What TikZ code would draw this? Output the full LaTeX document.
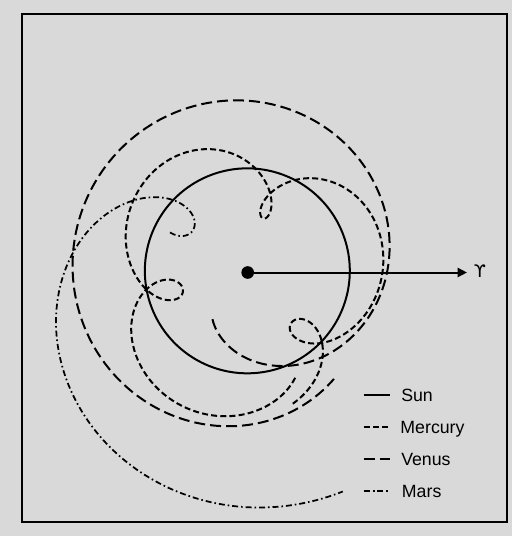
\documentclass[tikz,border=0pt]{standalone}
\usepackage{fontspec}
\setmainfont{Liberation Sans}
\newfontfamily\symfont{DejaVu Sans}
\usetikzlibrary{arrows.meta}
\definecolor{bg}{gray}{0.85}
\begin{document}
\begin{tikzpicture}[x=0.75pt,y=0.75pt,
  declare function={
    kep(\Mx,\Ex)=\Mx+deg(2*\Ex*sin(\Mx)+1.25*\Ex*\Ex*sin(2*\Mx)+\Ex*\Ex*\Ex*(1.0833333*sin(3*\Mx)-0.25*sin(\Mx)));
    prad(\Mx,\Ex,\Ax)=\Ax*(1-\Ex*\Ex)/(1+\Ex*cos(kep(\Mx,\Ex)));
    posx(\Mx,\Ex,\Ax,\Wx)=prad(\Mx,\Ex,\Ax)*cos(kep(\Mx,\Ex)+\Wx);
    posy(\Mx,\Ex,\Ax,\Wx)=prad(\Mx,\Ex,\Ax)*sin(kep(\Mx,\Ex)+\Wx);
    earthx(\t)=posx(-2.672+0.9856091*\t,0.01671,1,102.921);
    earthy(\t)=posy(-2.672+0.9856091*\t,0.01671,1,102.921);
    mercx(\t)=posx(260.137+4.0923388*\t,0.20563,0.38710,77.456)-earthx(\t);
    mercy(\t)=posy(260.137+4.0923388*\t,0.20563,0.38710,77.456)-earthy(\t);
    venx(\t)=posx(4.129+1.6021305*\t,0.00677,0.72333,131.56)-earthx(\t);
    veny(\t)=posy(4.129+1.6021305*\t,0.00677,0.72333,131.56)-earthy(\t);
    marsx(\t)=posx(142.29+0.5240208*\t,0.09340,1.52368,336.04)-earthx(\t);
    marsy(\t)=posy(142.29+0.5240208*\t,0.09340,1.52368,336.04)-earthy(\t);
  }]
\tikzset{
  sunline/.style={line width=1.5pt},
  mercury/.style={line width=1.5pt, dash pattern=on 4.5pt off 2.4pt},
  venus/.style={line width=1.5pt, dash pattern=on 8.2pt off 3.8pt},
  mars/.style={line width=1.3pt, dash pattern=on 4.5pt off 2.2pt on 1.2pt off 2.2pt},
  legtext/.style={anchor=base west, inner sep=0pt, font=\fontsize{13.3}{16}\selectfont},
}
\def\AU{102.5}
% background and frame
\fill[bg] (-247.7,-263.5) rectangle (264.3,272.5);
\useasboundingbox (-247.7,-263.5) rectangle (264.3,272.5);
\draw[line width=1.4pt] (-225.7,-249.2) rectangle (259.0,258.5);
% planet paths (geocentric, one year)
\draw[mars] plot[domain=-1:364, samples=366] ({\AU*marsx(\x)},{\AU*marsy(\x)});
\draw[venus] plot[domain=-1:362, samples=364] ({\AU*venx(\x)},{\AU*veny(\x)});
\draw[mercury] plot[domain=-1:362, samples=727] ({\AU*mercx(\x)},{\AU*mercy(\x)});
% sun path
\draw[sunline] plot[domain=0:360, samples=181] ({-\AU*0.99972/(1+0.01671*cos(\x))*cos(\x+102.921)},{-\AU*0.99972/(1+0.01671*cos(\x))*sin(\x+102.921)}) -- cycle;
% earth and direction of the vernal equinox
\node[circle, fill=black, inner sep=0pt, minimum size=9.5pt] (earth) at (0,0) {};
\coordinate (tip) at (219.3,0);
\draw[line width=1.5pt, -{Triangle[length=7pt,width=6.8pt]}] (earth.center) -- (tip);
\node[inner sep=0pt] (aries) at (232.3,1.5) {\symfont\fontsize{13}{15}\selectfont ϒ};
% legend
\coordinate (s1) at (116.3,-122.5); \coordinate (s2) at (142.3,-122.5);
\coordinate (m1) at (116.3,-154.5); \coordinate (m2) at (142.3,-154.5);
\coordinate (v1) at (116.3,-186.5); \coordinate (v2) at (142.3,-186.5);
\coordinate (a1) at (116.3,-218.5); \coordinate (a2) at (142.3,-218.5);
\draw[sunline] (s1) -- (s2);
\draw[mercury] (m1) -- (m2);
\draw[venus] (v1) -- (v2);
\draw[mars] (a1) -- (a2);
\node[legtext] (lsun) at (153.3,-128.9) {Sun};
\node[legtext] (lmer) at (152.5,-160.9) {Mercury};
\node[legtext] (lven) at (153.3,-192.9) {Venus};
\node[legtext] (lmar) at (154.0,-224.9) {Mars};
\end{tikzpicture}
\end{document}
